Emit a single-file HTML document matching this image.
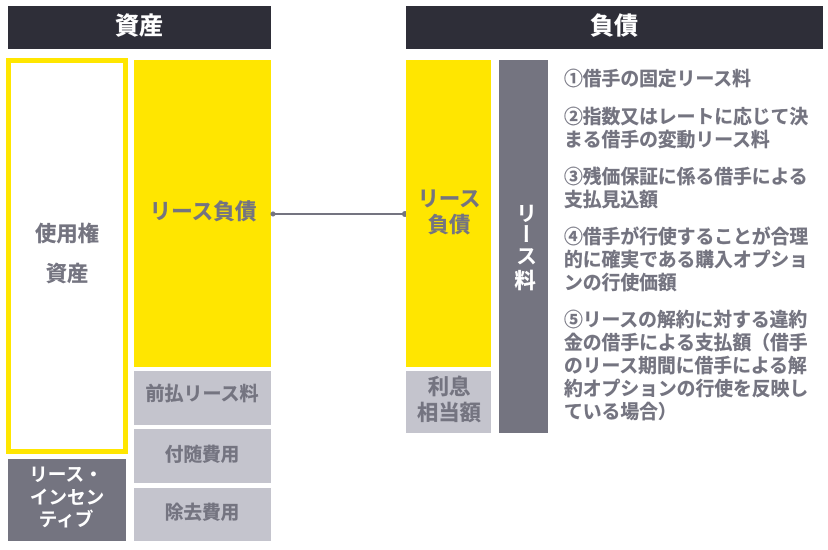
<!DOCTYPE html>
<html lang="ja"><head><meta charset="utf-8"><style>
html,body{margin:0;padding:0;background:#fff}
#p{position:relative;width:828px;height:550px;overflow:hidden;font-family:"Liberation Sans","Noto Sans CJK JP",sans-serif;font-weight:bold}
.b{position:absolute;box-sizing:border-box}
.t{position:absolute;white-space:nowrap;text-align:center;color:#747480;font-size:21.3px;line-height:24px;transform:translate(-50%,-50%);-webkit-text-stroke:.3px currentColor}
.l{position:absolute;left:564px;white-space:nowrap;color:#747480;font-size:18.8px;line-height:24px;transform:translateY(-50%);-webkit-text-stroke:.3px currentColor}
.w{color:#fff}
.n{-webkit-text-stroke:0}
</style></head><body><div id="p">
<div class="b" style="left:8px;top:6px;width:263px;height:43px;background:#2e2e38"></div>
<div class="b" style="left:406px;top:6px;width:417px;height:43px;background:#2e2e38"></div>
<div class="t w" style="left:139px;top:27px;font-size:24px">資産</div>
<div class="t w" style="left:614px;top:27px;font-size:24px">負債</div>

<div class="b" style="left:6px;top:58px;width:122px;height:396px;border:5px solid #ffe600;background:#fff"></div>
<div class="t" style="left:67px;top:234px">使用権</div>
<div class="t" style="left:67px;top:274px">資産</div>

<div class="b" style="left:8px;top:459px;width:118px;height:82px;background:#747480"></div>
<div class="t w n" style="left:66px;top:475px;font-size:18.67px">リース・</div>
<div class="t w n" style="left:67px;top:498px;font-size:18.67px">インセン</div>
<div class="t w n" style="left:66px;top:520px;font-size:18.67px">ティブ</div>

<div class="b" style="left:134px;top:60px;width:137px;height:307px;background:#ffe600"></div>
<div class="t" style="left:203px;top:212px;font-size:21.6px">リース負債</div>
<div class="b" style="left:134px;top:371px;width:137px;height:54px;background:#c4c4cd"></div>
<div class="t" style="left:202px;top:395px;font-size:19px">前払リース料</div>
<div class="b" style="left:134px;top:429px;width:137px;height:54px;background:#c4c4cd"></div>
<div class="t" style="left:202px;top:455px;font-size:18.67px">付随費用</div>
<div class="b" style="left:134px;top:488px;width:137px;height:53px;background:#c4c4cd"></div>
<div class="t" style="left:202px;top:513px;font-size:18.67px">除去費用</div>

<svg class="b" style="left:0;top:0" width="828" height="550">
<line x1="273" y1="214" x2="405" y2="214" stroke="#747480" stroke-width="2"/>
<circle cx="273" cy="214" r="2.5" fill="#747480"/>
<circle cx="405" cy="214" r="3" fill="#747480"/>
</svg>

<div class="b" style="left:406px;top:60px;width:85px;height:307px;background:#ffe600"></div>
<div class="t" style="left:449px;top:199px">リース</div>
<div class="t" style="left:449px;top:225px">負債</div>
<div class="b" style="left:406px;top:371px;width:85px;height:62px;background:#c4c4cd"></div>
<div class="t" style="left:449px;top:387px">利息</div>
<div class="t" style="left:449px;top:413px">相当額</div>

<div class="b" style="left:499px;top:60px;width:49px;height:373px;background:#747480"></div>
<div class="t w n" style="left:525px;top:234px;writing-mode:vertical-rl;font-size:21.3px">リース</div>
<div class="t w" style="left:525px;top:281px;font-size:21.3px">料</div>

<div class="l" style="top:79px">①借手の固定リース料</div>
<div class="l" style="top:117px">②指数又はレートに応じて決</div>
<div class="l" style="top:140px">まる借手の変動リース料</div>
<div class="l" style="top:177px">③残価保証に係る借手による</div>
<div class="l" style="top:200px">支払見込額</div>
<div class="l" style="top:237px">④借手が行使することが合理</div>
<div class="l" style="top:260px">的に確実である購入オプショ</div>
<div class="l" style="top:283px">ンの行使価額</div>
<div class="l" style="top:320px">⑤リースの解約に対する違約</div>
<div class="l" style="top:343px">金の借手による支払額（借手</div>
<div class="l" style="top:366px">のリース期間に借手による解</div>
<div class="l" style="top:389px">約オプションの行使を反映し</div>
<div class="l" style="top:412px">ている場合）</div>
</div></body></html>
